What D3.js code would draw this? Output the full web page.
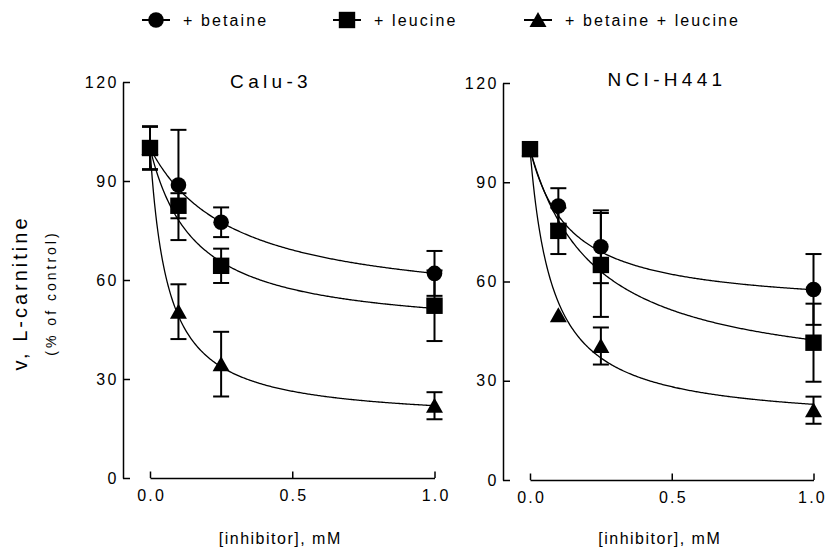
<!DOCTYPE html>
<html>
<head>
<meta charset="utf-8">
<script src="https://cdn.jsdelivr.net/npm/d3@7"></script>
<style>
  body { margin: 0; background: #fff; }
  text { font-family: "Liberation Sans", Arial, sans-serif; fill: #000; }
</style>
</head>
<body>
<div id="chart"></div>
<script>
// ---- data ----
var doses = [0, 0.1, 0.25, 1.0];
var seriesNames = ["+ betaine", "+ leucine", "+ betaine + leucine"];
var seriesShapes = ["circle", "square", "triangle"];
var panelTitles = ["Calu-3", "NCI-H441"];
var xTicks = [0, 0.5, 1.0];
var yTicks = [0, 30, 60, 90, 120];

// Calu-3 (mean, sd)
var caluBetaine = [100, 88.8, 77.5, 62.0];
var caluBetaineSd = [6.5, 16.7, 4.5, 6.8];
var caluLeucine = [100, 82.5, 64.3, 52.2];
var caluLeucineSd = [6.5, 3.8, 5.2, 10.7];
var caluBoth = [100, 50.4, 34.5, 21.9];
var caluBothSd = [6.5, 8.3, 9.8, 4.1];
// fitted curves (bottom plateau, IC50 in mM)
var caluFitBottom = [50.7, 43.7, 17.0];
var caluFitK = [0.298, 0.158, 0.063];

// NCI-H441 (mean, sd)
var nciBetaine = [100, 82.8, 70.5, 57.6];
var nciBetaineSd = [1, 5.4, 11.0, 10.7];
var nciLeucine = [100, 75.3, 65.0, 41.5];
var nciLeucineSd = [1, 7.0, 15.7, 11.8];
var nciBoth = [100, 49.8, 40.5, 21.1];
var nciBothSd = [0, 0, 5.6, 4.1];
var nciFitBottom = [51.5, 29.1, 16.7];
var nciFitK = [0.141, 0.229, 0.080];

var panels = [
  { title: panelTitles[0], means: [caluBetaine, caluLeucine, caluBoth], sds: [caluBetaineSd, caluLeucineSd, caluBothSd],
    bottom: caluFitBottom, k: caluFitK, xr: [150, 434.5], yr: [478, 82], axisX: 123, titleX: 269, titleY: 88 },
  { title: panelTitles[1], means: [nciBetaine, nciLeucine, nciBoth], sds: [nciBetaineSd, nciLeucineSd, nciBothSd],
    bottom: nciFitBottom, k: nciFitK, xr: [530, 813.5], yr: [480, 83], axisX: 503, titleX: 665, titleY: 86 }
];

var svg = d3.select("#chart").append("svg")
  .attr("width", 826)
  .attr("height", 554);

function drawMarker(g, shape, cx, cy) {
  if (shape == "circle") {
    g.append("circle").attr("cx", cx).attr("cy", cy).attr("r", 7.8).attr("fill", "#000");
  } else if (shape == "square") {
    g.append("rect").attr("x", cx - 8.2).attr("y", cy - 8.2).attr("width", 16.4).attr("height", 16.4).attr("fill", "#000");
  } else {
    g.append("path")
      .attr("d", "M" + cx + "," + (cy - 8) + "L" + (cx + 8.5) + "," + (cy + 7) + "L" + (cx - 8.5) + "," + (cy + 7) + "Z")
      .attr("fill", "#000");
  }
}

panels.forEach(function (p, pi) {
  var x = d3.scaleLinear().domain([0, 1]).range(p.xr);
  var y = d3.scaleLinear().domain([0, 120]).range(p.yr);
  var g = svg.append("g");

  // y axis (ticks pointing in)
  var yAxis = g.append("g")
    .attr("transform", "translate(" + p.axisX + ",0)")
    .call(d3.axisLeft(y).tickValues(yTicks).tickSizeInner(-7).tickSizeOuter(0).tickPadding(4));
  yAxis.selectAll("text").style("font-size", "16px").style("letter-spacing", "2.5px")
    .attr("font-family", null).attr("fill", "#000");

  // x axis, detached from y axis
  var xAxis = g.append("g")
    .attr("transform", "translate(0," + y(0) + ")")
    .call(d3.axisBottom(x).tickValues(xTicks).tickFormat(d3.format(".1f")).tickSizeInner(-6.5).tickSizeOuter(0).tickPadding(12));
  xAxis.selectAll("text").style("font-size", "16px").style("letter-spacing", "2.2px")
    .attr("dx", function (d) { return (pi == 1 && d == 1) ? -1.5 : 1.1; })
    .attr("font-family", null).attr("fill", "#000");

  g.selectAll(".domain, .tick line").attr("stroke", "#000").attr("stroke-width", 1.5);

  g.append("text")
    .attr("x", p.titleX + 2)
    .attr("y", p.titleY)
    .attr("text-anchor", "middle")
    .style("font-size", "19px")
    .style("letter-spacing", "4.3px")
    .text(p.title);

  g.append("text")
    .attr("x", (p.xr[0] + p.xr[1]) / 2 - 12)
    .attr("y", 544)
    .attr("text-anchor", "middle")
    .style("font-size", "16px")
    .style("letter-spacing", "1.5px")
    .text("[inhibitor], mM");

  // fitted curves
  var line = d3.line().x(function (d) { return x(d[0]); }).y(function (d) { return y(d[1]); });
  var xs = d3.range(0, 1.0001, 0.004);
  p.bottom.forEach(function (b, i) {
    var k = p.k[i];
    var pts = xs.map(function (v) { return [v, b + (100 - b) * k / (k + v)]; });
    g.append("path").attr("d", line(pts)).attr("fill", "none").attr("stroke", "#000").attr("stroke-width", 1.3);
  });

  // error bars
  p.means.forEach(function (m, i) {
    m.forEach(function (v, j) {
      var sd = p.sds[i][j];
      if (!sd) return;
      var cx = x(doses[j]);
      var eb = g.append("g").attr("stroke", "#000").attr("stroke-width", 2);
      eb.append("line").attr("x1", cx).attr("x2", cx).attr("y1", y(v - sd)).attr("y2", y(v + sd));
      eb.append("line").attr("x1", cx - 8).attr("x2", cx + 8).attr("y1", y(v - sd)).attr("y2", y(v - sd));
      eb.append("line").attr("x1", cx - 8).attr("x2", cx + 8).attr("y1", y(v + sd)).attr("y2", y(v + sd));
    });
  });

  // markers
  p.means.forEach(function (m, i) {
    m.forEach(function (v, j) {
      drawMarker(g, seriesShapes[i], x(doses[j]), y(v));
    });
  });
});

// y axis title
svg.append("text")
  .attr("transform", "translate(27,293) rotate(-90)")
  .attr("text-anchor", "middle")
  .style("font-size", "20px")
  .style("letter-spacing", "3px")
  .text("v, L-carnitine");
svg.append("text")
  .attr("transform", "translate(56,293) rotate(-90)")
  .attr("text-anchor", "middle")
  .style("font-size", "14px")
  .style("letter-spacing", "3px")
  .text("(% of control)");

// legend
var legendX = [156, 347, 538];
var legend = svg.append("g");
seriesNames.forEach(function (name, i) {
  var lx = legendX[i];
  legend.append("line").attr("x1", lx - 14).attr("x2", lx + 14).attr("y1", 20).attr("y2", 20)
    .attr("stroke", "#000").attr("stroke-width", 2);
  drawMarker(legend, seriesShapes[i], lx, 20);
  legend.append("text")
    .attr("x", lx + 27)
    .attr("y", 25.5)
    .style("font-size", "16px")
    .style("letter-spacing", "2.1px")
    .text(name);
});
</script>
</body>
</html>
